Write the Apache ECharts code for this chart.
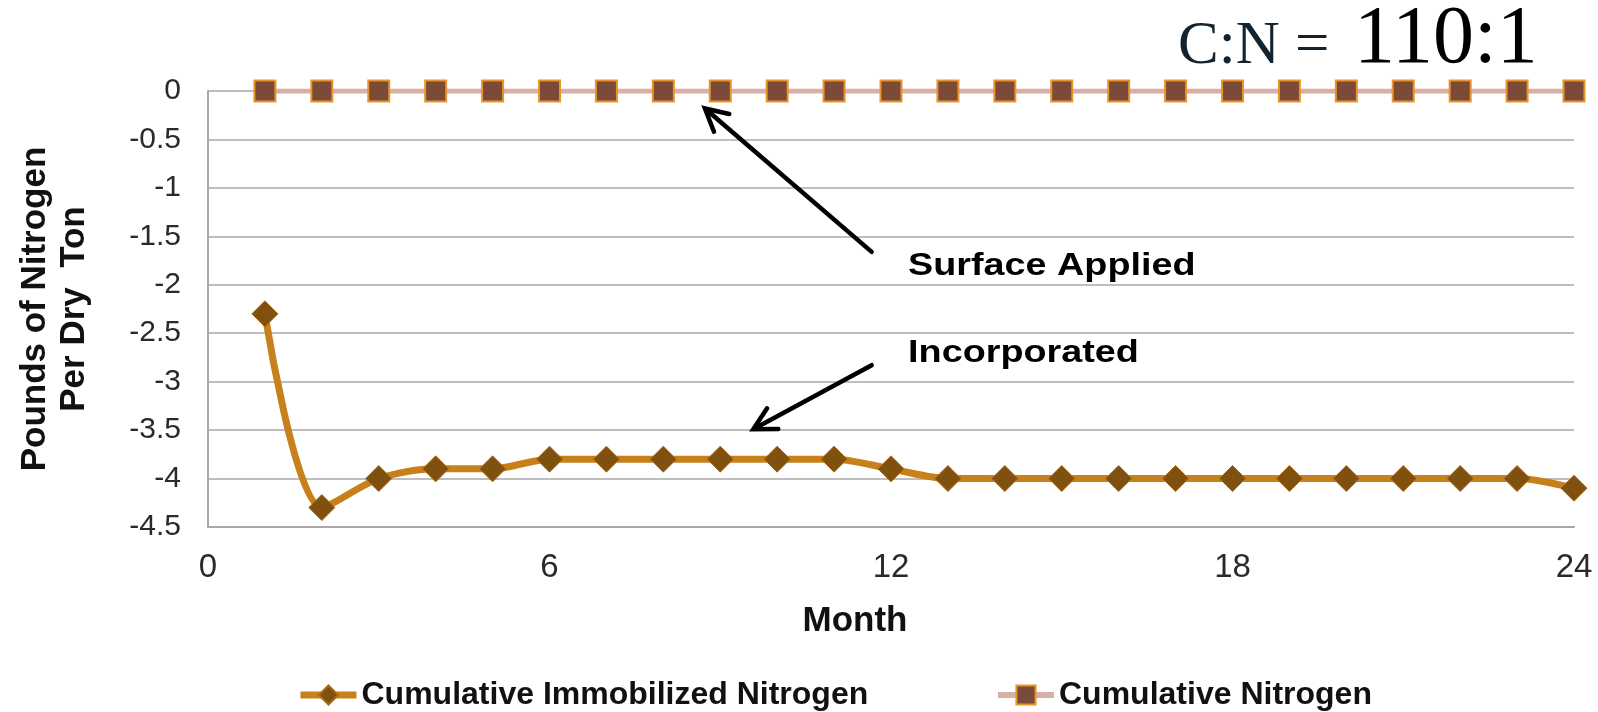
<!DOCTYPE html>
<html>
<head>
<meta charset="utf-8">
<script src="https://cdn.jsdelivr.net/npm/echarts@6/dist/echarts.min.js"></script>
<style>
html,body{margin:0;padding:0;background:#fff;}
#chart{width:1598px;height:712px;}
</style>
</head>
<body>
<div id="chart"></div>
<script>
// ---- data ----
const months = [1,2,3,4,5,6,7,8,9,10,11,12,13,14,15,16,17,18,19,20,21,22,23,24];
const immobilized = [-2.3,-4.3,-4.0,-3.9,-3.9,-3.8,-3.8,-3.8,-3.8,-3.8,-3.8,-3.9,-4.0,-4.0,-4.0,-4.0,-4.0,-4.0,-4.0,-4.0,-4.0,-4.0,-4.0,-4.1];
const cumulativeN = [0,0,0,0,0,0,0,0,0,0,0,0,0,0,0,0,0,0,0,0,0,0,0,0];
const seriesNames = ['Cumulative Immobilized Nitrogen', 'Cumulative Nitrogen'];
const xTicks = [0, 6, 12, 18, 24];
const yTicks = [0, -0.5, -1, -1.5, -2, -2.5, -3, -3.5, -4, -4.5];
const titleLeft = 'C:N =';
const titleRight = '110:1';
const yTitle = 'Pounds of Nitrogen\nPer Dry  Ton';
const xTitle = 'Month';
// annotations (in data coordinates)
const annotations = [
  { text: 'Surface Applied', at: [12.3, -1.81], tail: [11.66, -1.66], tip: [8.73, -0.18] },
  { text: 'Incorporated',    at: [12.3, -2.71], tail: [11.66, -2.83], tip: [9.58, -3.49] }
];

const FONT = 'Liberation Sans';
const chart = echarts.init(document.getElementById('chart'), null, {renderer: 'canvas'});

const option = {
  backgroundColor: '#ffffff',
  animation: false,
  title: [
    { text: titleLeft, left: 1178, top: 16, padding: 0,
      textStyle: { fontFamily: 'Liberation Serif', fontSize: 61, fontWeight: 'normal', color: '#13232E' } },
    { text: titleRight, left: 1354, top: -1, padding: 0,
      textStyle: { fontFamily: 'Liberation Serif', fontSize: 82, fontWeight: 'normal', color: '#000000' } }
  ],
  grid: { left: 208, right: 24, top: 91, bottom: 185, outerBoundsMode: 'none', containLabel: false },
  legend: [
    { data: [seriesNames[0]], left: 297, top: 679, padding: 0, itemWidth: 56, itemHeight: 24,
      lineStyle: { width: 7 },
      textStyle: { fontFamily: FONT, fontSize: 32, fontWeight: 'bold', color: '#111' } },
    { data: [seriesNames[1]], left: 995, top: 679, padding: 0, itemWidth: 56, itemHeight: 24,
      lineStyle: { width: 6 },
      textStyle: { fontFamily: FONT, fontSize: 32, fontWeight: 'bold', color: '#111' } }
  ],
  xAxis: {
    type: 'value', min: xTicks[0], max: xTicks[xTicks.length-1], interval: 6,
    name: xTitle, nameLocation: 'middle', nameGap: 77,
    nameTextStyle: { fontFamily: FONT, fontSize: 35, fontWeight: 'bold', color: '#111', padding: [0, 72, 0, 0] },
    axisLine: { show: true, onZero: false, lineStyle: { color: '#A8A8A8', width: 2 } },
    axisTick: { show: false },
    splitLine: { show: false },
    axisLabel: { fontFamily: FONT, fontSize: 33, color: '#2a2a2a', margin: 24 }
  },
  yAxis: {
    type: 'value', min: yTicks[yTicks.length-1], max: yTicks[0], interval: 0.5,
    name: yTitle, nameLocation: 'middle', nameGap: 114, nameRotate: 90,
    nameTextStyle: { fontFamily: FONT, fontSize: 35, fontWeight: 'bold', color: '#111', lineHeight: 39, align: 'center' },
    axisLine: { show: true, lineStyle: { color: '#A8A8A8', width: 2 } },
    axisTick: { show: false },
    splitLine: { show: true, lineStyle: { color: '#BEBEBE', width: 2 } },
    axisLabel: { fontFamily: FONT, fontSize: 30, color: '#2a2a2a', margin: 27 }
  },
  series: [
    {
      name: seriesNames[0], type: 'line', smooth: 0.3,
      data: months.map((m, i) => [m, immobilized[i]]),
      symbol: 'diamond', symbolSize: 26,
      lineStyle: { color: '#C8801A', width: 7 },
      itemStyle: { color: '#80500F', borderColor: '#A86A14', borderWidth: 1 },
      z: 3
    },
    {
      name: seriesNames[1], type: 'line',
      data: months.map((m, i) => [m, cumulativeN[i]]),
      symbol: 'rect', symbolSize: 21,
      lineStyle: { color: '#D8B0A6', width: 5 },
      itemStyle: { color: '#7B4A38', borderColor: '#E8952A', borderWidth: 2 },
      z: 4
    }
  ]
};
chart.setOption(option);

// annotation arrows & labels positioned through the chart's own coordinate system
function buildAnnotations() {
  const els = [];
  annotations.forEach(a => {
    const p = chart.convertToPixel({gridIndex: 0}, a.at);
    const t0 = chart.convertToPixel({gridIndex: 0}, a.tail);
    const t1 = chart.convertToPixel({gridIndex: 0}, a.tip);
    els.push({
      type: 'text', x: p[0], y: p[1], scaleX: 1.18, z: 10,
      style: { text: a.text, fontFamily: FONT, fontSize: 32, fontWeight: 'bold', fill: '#000',
               align: 'left', verticalAlign: 'middle' }
    });
    const dx = t0[0] - t1[0], dy = t0[1] - t1[1];
    const len = Math.sqrt(dx*dx + dy*dy);
    const ux = dx/len, uy = dy/len;
    const L = 25, ang = 28 * Math.PI / 180;
    const rot = (s) => [ux*Math.cos(s) - uy*Math.sin(s), ux*Math.sin(s) + uy*Math.cos(s)];
    const r1 = rot(ang), r2 = rot(-ang);
    els.push({
      type: 'line', z: 10,
      shape: { x1: t0[0], y1: t0[1], x2: t1[0] + ux*2, y2: t1[1] + uy*2 },
      style: { stroke: '#000', lineWidth: 4.5, lineCap: 'round' }
    });
    els.push({
      type: 'polyline', z: 10,
      shape: { points: [[t1[0] + r1[0]*L, t1[1] + r1[1]*L], [t1[0], t1[1]], [t1[0] + r2[0]*L, t1[1] + r2[1]*L]] },
      style: { stroke: '#000', lineWidth: 4.5, fill: null, lineCap: 'round', lineJoin: 'miter' }
    });
  });
  chart.setOption({ graphic: { elements: els } });
}
buildAnnotations();
</script>
</body>
</html>
